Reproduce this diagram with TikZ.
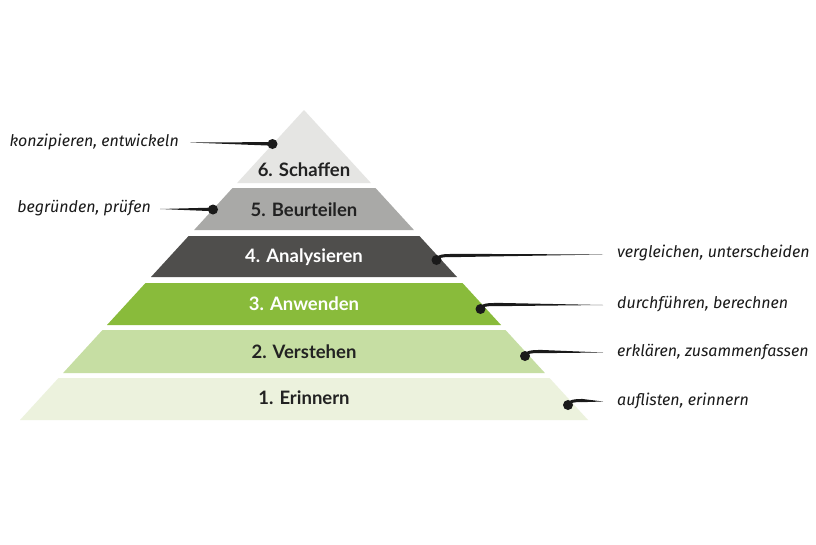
\documentclass[tikz,border=0pt]{standalone}
\usepackage{fontspec}
\setmainfont{Lato}
\newfontfamily\handfont{Fira Sans}
\usetikzlibrary{calc}
\definecolor{ink}{HTML}{1A1A1A}
\definecolor{cSix}{HTML}{E5E5E3}
\definecolor{cFive}{HTML}{A9A9A7}
\definecolor{cFour}{HTML}{4F4E4C}
\definecolor{cThree}{HTML}{89BB3B}
\definecolor{cTwo}{HTML}{C6DEA3}
\definecolor{cOne}{HTML}{ECF2DD}
\definecolor{lbl}{HTML}{222222}
\begin{document}
\begin{tikzpicture}[x=1pt,y=-1pt,
  lvl/.style={font=\fontsize{18.5}{21}\selectfont\bfseries, inner sep=0pt},
  hw/.style={font=\handfont\itshape\fontsize{16}{18}\selectfont, text=ink, inner sep=0pt},
  blob/.style={circle, fill=ink, minimum size=10pt, inner sep=0pt}]
\useasboundingbox (0,0) rectangle (816,544);
\fill[white] (0,0) rectangle (816,544);
% layers
\fill[cSix]   (304,110) -- (370.9,183) -- (237.1,183) -- cycle;
\fill[cFive]  (232.5,188) -- (375.5,188) -- (413.9,230) -- (194.1,230) -- cycle;
\fill[cFour]  (188.6,236) -- (419.4,236) -- (457,277) -- (151,277) -- cycle;
\fill[cThree] (145.5,283) -- (462.5,283) -- (501,325) -- (107,325) -- cycle;
\fill[cTwo]   (102.5,330) -- (505.5,330) -- (544.9,373) -- (63.1,373) -- cycle;
\fill[cOne]   (58.5,378) -- (549.5,378) -- (588,420) -- (20,420) -- cycle;
% level labels
\node[lvl, text=lbl]   (l6) at (304,170) {6. Schaffen};
\node[lvl, text=lbl]   (l5) at (304,210) {5. Beurteilen};
\node[lvl, text=white] (l4) at (304,257) {4. Analysieren};
\node[lvl, text=white] (l3) at (304,304) {3. Anwenden};
\node[lvl, text=lbl]   (l2) at (304,352) {2. Verstehen};
\node[lvl, text=lbl]   (l1) at (304,398) {1. Erinnern};
% dots
\node[blob] (d6) at (272.5,144) {};
\node[blob] (d5) at (213,209.5) {};
\node[blob] (d4) at (436.5,260) {};
\node[blob] (d3) at (480.5,309) {};
\node[blob] (d2) at (525,356) {};
\node[blob] (d1) at (568,405) {};
% text labels
\node[hw, anchor=east] (t6) at (179,142) {konzipieren, entwickeln};
\node[hw, anchor=east] (t5) at (151,208) {begründen, prüfen};
\node[hw, anchor=west] (t4) at (617,253) {vergleichen, unterscheiden};
\node[hw, anchor=west] (t3) at (617,304) {durchführen, berechnen};
\node[hw, anchor=west] (t2) at (617,352) {erklären, zusammenfassen};
\node[hw, anchor=west] (t1) at (617,401) {auflisten, erinnern};
% connector ends
\coordinate (e6) at (190,142.5);
\coordinate (e5) at (160,209);
\coordinate (e4) at (603,254.5);
\coordinate (e3) at (603,305);
\coordinate (e2) at (603,352.5);
\coordinate (e1) at (603,401.5);
% left connectors
\fill[ink] ($(d6.center)+(0,-1.9)$) -- (e6) -- ($(d6.center)+(0,1.7)$) -- cycle;
\fill[ink] ($(d5.center)+(0,-1.9)$) -- (e5) -- ($(d5.center)+(0,1.7)$) -- cycle;
% right connectors
\foreach \i in {4,3,2,1}{
  \coordinate (c\i) at ($(d\i.center)+(13,-4.5)$);
  \draw[ink, line width=3pt, line cap=round] (d\i.center) .. controls +(1,-4) and +(-6,0) .. (c\i);
  \fill[ink] ($(c\i)+(0,-1.7)$) -- (e\i) -- ($(c\i)+(0,1.7)$) -- cycle;
}
\end{tikzpicture}
\end{document}
